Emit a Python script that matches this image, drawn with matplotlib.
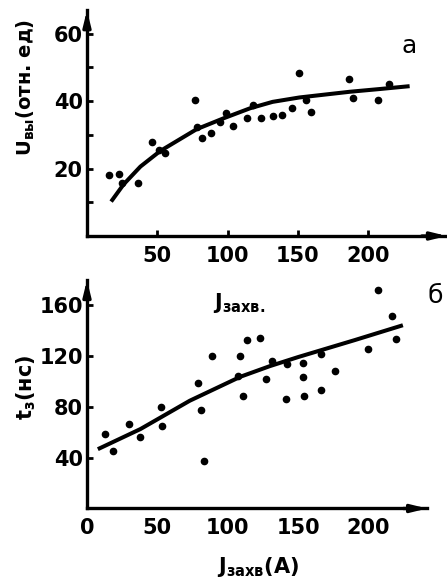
# Зависимость U_вы и t_з от тока захвата (рис. а, б)
import matplotlib.pyplot as plt

# рис. а
ua_x = [15.6, 22.7, 25, 36.5, 46, 51, 55.5, 77, 78, 82, 88, 94.5, 99, 104, 114, 118,
        124, 132, 139, 146, 151, 156, 159, 186, 189, 207, 214.5]
ua_y = [18.0, 18.5, 15.8, 15.8, 28, 25.5, 24.5, 40.4, 32.2, 29.2, 30.7, 33.7, 36.6, 32.5,
        34.9, 38.8, 35, 35.6, 35.9, 37.9, 48.5, 40.3, 36.9, 46.7, 40.8, 40.4, 45.2]
fit_a_x = [18, 26, 38, 52, 66, 78, 97, 116, 132, 151, 170, 187, 208, 228]
fit_a_y = [10.7, 15.3, 20.6, 25.2, 28.7, 31.7, 34.9, 37.9, 39.8, 41.1, 42.0, 42.8, 43.6, 44.4]

# рис. б
tb_x = [12.8, 18.5, 29.9, 37.4, 52.4, 53.3, 79.1, 80.8, 83.4, 88.9, 107.3, 109, 111, 113.5,
        123.2, 126.8, 131.5, 141.7, 142.2, 153.1, 153.1, 154, 166.1, 166.1, 176.1, 199.5,
        206.6, 216.4, 219.2]
tb_y = [58.4, 45.5, 66.3, 56.5, 79.7, 65, 98.6, 77.6, 37.6, 120.3, 104.6, 120, 88.8, 132.7,
        134.5, 102, 116.1, 86, 113.5, 114.8, 103.8, 88.8, 121.7, 93.3, 108.3, 125.6,
        172, 151.8, 133.5]
fit_b_x = [9, 38, 73, 109, 130, 150, 190, 223]
fit_b_y = [47.4, 62.6, 84.9, 103.8, 112.2, 119.3, 132.6, 143.9]

plt.rcParams['font.family'] = 'DejaVu Sans'
plt.rcParams['font.weight'] = 'bold'
plt.rcParams['mathtext.default'] = 'bf'

fig = plt.figure(figsize=(4.47, 5.82), dpi=100)
ax1 = fig.add_axes([0.1946, 0.5945, 0.8054, 0.388])
ax2 = fig.add_axes([0.1946, 0.1263, 0.761, 0.3926])


def style(ax):
    for s in ['top', 'right']:
        ax.spines[s].set_visible(False)
    for s in ['left', 'bottom']:
        ax.spines[s].set_linewidth(2.4)
    ax.tick_params(direction='in', length=4, width=2, labelsize=15, pad=3)
    ax.tick_params(axis='x', pad=7)
    # стрелки на осях
    ax.annotate('', xy=(1, 0), xytext=(0.93, 0), xycoords='axes fraction',
                arrowprops=dict(arrowstyle='-|>,head_length=0.9,head_width=0.22',
                                color='k', lw=2.4, shrinkA=0, shrinkB=0))
    ax.annotate('', xy=(0, 1), xytext=(0, 0.93), xycoords='axes fraction',
                arrowprops=dict(arrowstyle='-|>,head_length=0.9,head_width=0.22',
                                color='k', lw=2.4, shrinkA=0, shrinkB=0))


ax1.plot(ua_x, ua_y, 'o', color='k', markersize=4.5)
ax1.plot(fit_a_x, fit_a_y, '-', color='k', lw=2.9)
ax1.set_xlim(0, 256)
ax1.set_ylim(0, 67)
ax1.set_xticks([50, 100, 150, 200])
ax1.set_yticks([10, 20, 30, 40, 50, 60])
ax1.set_yticklabels(['', '20', '', '40', '', '60'])
style(ax1)
ax1.text(0.875, 0.81, 'а', transform=ax1.transAxes, fontsize=18, fontweight='normal')

ax2.plot(tb_x, tb_y, 'o', color='k', markersize=4.5)
ax2.plot(fit_b_x, fit_b_y, '-', color='k', lw=2.9)
ax2.set_xlim(0, 241.6)
ax2.set_ylim(0, 180)
ax2.set_xticks([0, 50, 100, 150, 200])
ax2.set_yticks([40, 80, 120, 160])
style(ax2)
ax2.tick_params(axis='x', length=0)

fig.text(0.058, 0.85, 'U$_{вы}$(отн. ед)', rotation=90, ha='center', va='center', fontsize=14)
fig.text(0.058, 0.335, 't$_{з}$(нс)', rotation=90, ha='center', va='center', fontsize=15)
fig.text(0.476, 0.48, 'J$_{захв.}$', ha='left', va='center', fontsize=15)
fig.text(0.99, 0.492, 'б', ha='right', va='center', fontsize=18, fontweight='normal')
fig.text(0.485, 0.025, 'J$_{захв}$(A)', ha='left', va='center', fontsize=15)

fig.savefig('out.png', dpi=100)
